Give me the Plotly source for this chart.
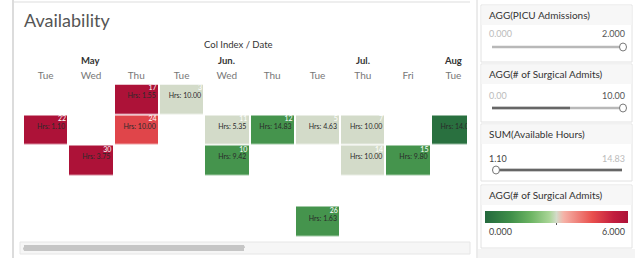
import plotly.graph_objects as go

# ---------------- data ----------------
day_labels = ["Tue", "Wed", "Thu", "Tue", "Wed", "Thu", "Tue", "Thu", "Fri", "Tue"]
month_labels = ["May", "Jun.", "Jul.", "Aug"]
month_centers = [1, 4, 7, 9]          # column index under which month label sits

# cells: (row, col, day number, available hours, surgical admits)
cell_rows = [0, 0, 1, 1, 1, 1, 1, 1, 1, 2, 2, 2, 2, 4]
cell_cols = [2, 3, 0, 2, 4, 5, 6, 7, 9, 1, 4, 7, 8, 6]
cell_days = [17, 3, 22, 24, 11, 12, 5, 7, 2, 30, 10, 14, 15, 26]
cell_hours = [1.55, 10.00, 1.10, 10.00, 5.35, 14.83, 4.63, 10.00, 14.00, 3.75, 9.42, 10.00, 9.80, 1.63]
cell_admits = [6.0, 3.0, 6.0, 4.7, 3.0, 1.2, 3.0, 3.0, 0.2, 6.0, 1.2, 3.0, 1.2, 1.2]

n_rows, n_cols = 5, 10
W, H = 640, 270

def px(x):
    return x / W

def py(y):
    return 1 - y / H

# build heatmap matrix
z = [[None] * n_cols for _ in range(n_rows)]
for r, c, v in zip(cell_rows, cell_cols, cell_admits):
    z[r][c] = v

colorscale = [
    [0.0, "#24693d"],
    [0.18, "#3f8f49"],
    [0.32, "#6cb463"],
    [0.45, "#a9d596"],
    [0.5, "#d3dbc9"],
    [0.55, "#f5b2a7"],
    [0.75, "#e9504d"],
    [0.9, "#c21d3e"],
    [1.0, "#ad1238"],
]

fig = go.Figure()

fig.add_trace(go.Heatmap(
    z=z, x=list(range(n_cols)), y=list(range(n_rows)),
    zmin=0, zmax=6, colorscale=colorscale,
    xgap=2, ygap=1.5, hoverongaps=False,
    colorbar=dict(
        orientation="h", thickness=12, thicknessmode="pixels",
        len=143, lenmode="pixels", xpad=0, ypad=0,
        x=px(485), xanchor="left", y=py(211), yanchor="top",
        outlinewidth=0, showticklabels=False, ticks="",
    ),
))

# day numbers (white, top-right)
fig.add_trace(go.Scatter(
    x=[c + 0.5 - 0.05 for c in cell_cols],
    y=[r - 0.5 + 0.02 for r in cell_rows],
    mode="text", text=[str(d) for d in cell_days],
    textposition="bottom left",
    textfont=dict(size=7, color="white", family="Lato"),
    hoverinfo="skip", showlegend=False,
))
# hours text
fig.add_trace(go.Scatter(
    x=[c + 0.5 - 0.07 for c in cell_cols],
    y=[r - 0.11 for r in cell_rows],
    mode="text", text=["Hrs: %.2f" % h for h in cell_hours],
    textposition="middle left",
    textfont=dict(size=7, color="#2a2a2a", family="Lato"),
    hoverinfo="skip", showlegend=False,
))

fig.update_xaxes(
    domain=[px(23), px(467)], range=[-0.5, 9.3], side="top",
    tickmode="array", tickvals=list(range(n_cols)), ticktext=day_labels,
    tickfont=dict(size=10, color="#777", family="Lato"),
    showgrid=False, zeroline=False, showline=False, ticks="",
    ticklabelstandoff=3,
)
fig.update_yaxes(
    domain=[py(237.5), py(84.5)], range=[4.5, -0.5],
    showticklabels=False, showgrid=False, zeroline=False, showline=False,
)

shapes = []
ann = []

# main panel borders
shapes.append(dict(type="line", xref="paper", yref="paper", x0=px(13), x1=px(13), y0=py(0), y1=py(258),
                   line=dict(color="#d0d0d0", width=1.5)))
shapes.append(dict(type="line", xref="paper", yref="paper", x0=px(13), x1=px(470), y0=py(2), y1=py(2),
                   line=dict(color="#dddddd", width=1)))
shapes.append(dict(type="line", xref="paper", yref="paper", x0=px(477), x1=px(477), y0=py(0), y1=py(258),
                   line=dict(color="#d8d8d8", width=1)))

# scrollbar
shapes.append(dict(type="rect", xref="paper", yref="paper", x0=px(20), x1=px(470), y0=py(254), y1=py(242),
                   fillcolor="#f6f6f6", line=dict(color="#e6e6e6", width=1)))
shapes.append(dict(type="path", xref="paper", yref="paper",
                   path="M %f %f L %f %f Q %f %f %f %f L %f %f Q %f %f %f %f Z" % (
                       px(26), py(245), px(242), py(245), px(245), py(245), px(245), py(248),
                       px(26), py(251), px(23), py(251), px(23), py(248)),
                   fillcolor="#c6c6c6", line=dict(width=0)))
shapes.append(dict(type="rect", xref="paper", yref="paper", x0=px(24), x1=px(244), y0=py(251), y1=py(245),
                   fillcolor="#c6c6c6", line=dict(width=0), layer="above"))

# title and headers
ann.append(dict(x=px(22), y=py(20), xref="paper", yref="paper", text="Availability", showarrow=False,
                xanchor="left", yanchor="middle", font=dict(size=18, color="#555", family="Lato")))
ann.append(dict(x=px(238), y=py(45), xref="paper", yref="paper", text="Col Index / Date", showarrow=False,
                xanchor="center", yanchor="middle", font=dict(size=9.5, color="#333", family="Lato")))
for m, c in zip(month_labels, month_centers):
    ann.append(dict(x=c, y=py(61), xref="x", yref="paper", text="<b>%s</b>" % m, showarrow=False,
                    xanchor="center", yanchor="middle", font=dict(size=9.5, color="#333", family="Lato")))

# right filter cards
def card(y0, y1, title):
    shapes.append(dict(type="rect", xref="paper", yref="paper", x0=px(481), x1=px(632), y0=py(y1), y1=py(y0),
                       fillcolor="white", line=dict(color="#e2e2e2", width=1), layer="below"))
    shapes.append(dict(type="rect", xref="paper", yref="paper", x0=px(481.5), x1=px(631.5), y0=py(y0 + 20), y1=py(y0 + 0.5),
                       fillcolor="#f7f7f7", line=dict(width=0), layer="below"))
    ann.append(dict(x=px(487), y=py(y0 + 10), xref="paper", yref="paper", text=title, showarrow=False,
                    xanchor="left", yanchor="middle", font=dict(size=10, color="#333", family="Lato")))

def values(y, left, right, lcol, rcol):
    ann.append(dict(x=px(487), y=py(y), xref="paper", yref="paper", text=left, showarrow=False,
                    xanchor="left", yanchor="middle", font=dict(size=9, color=lcol, family="Lato")))
    ann.append(dict(x=px(627), y=py(y), xref="paper", yref="paper", text=right, showarrow=False,
                    xanchor="right", yanchor="middle", font=dict(size=9, color=rcol, family="Lato")))

def slider(y, dark_x0, dark_x1, handle_x):
    shapes.append(dict(type="line", xref="paper", yref="paper", x0=px(492), x1=px(622), y0=py(y), y1=py(y),
                       line=dict(color="#b8b8b8", width=2.5)))
    if dark_x1 > dark_x0:
        shapes.append(dict(type="line", xref="paper", yref="paper", x0=px(dark_x0), x1=px(dark_x1), y0=py(y), y1=py(y),
                           line=dict(color="#666", width=2.5)))
    shapes.append(dict(type="circle", xref="paper", yref="paper", x0=px(handle_x - 3.5), x1=px(handle_x + 3.5),
                       y0=py(y + 4), y1=py(y - 4), fillcolor="white", line=dict(color="#777", width=1)))

card(5, 62, "AGG(PICU Admissions)")
values(33, "0.000", "2.000", "#bbb", "#555")
slider(47, 0, 0, 623)

card(64, 122, "AGG(# of Surgical Admits)")
values(95, "0.00", "10.00", "#bbb", "#555")
slider(108, 492, 570, 623)

card(124, 181, "SUM(Available Hours)")
values(158, "1.10", "14.83", "#444", "#bbb")
slider(170, 497, 622, 496)

card(185, 248, "AGG(# of Surgical Admits)")
values(231, "0.000", "6.000", "#444", "#444")
shapes.append(dict(type="rect", xref="paper", yref="paper", x0=px(478), x1=px(635), y0=py(258), y1=py(249),
                   fillcolor="#f4f4f4", line=dict(width=0), layer="below"))
shapes.append(dict(type="line", xref="paper", yref="paper", x0=px(556.5), x1=px(556.5), y0=py(222), y1=py(225),
                   line=dict(color="#555", width=1)))

fig.update_layout(
    width=W, height=H, margin=dict(l=0, r=0, t=0, b=0),
    paper_bgcolor="white", plot_bgcolor="white",
    shapes=shapes, annotations=ann, showlegend=False,
    font=dict(family="Lato"),
)

fig.write_html("out.html", config={"displayModeBar": False},
               post_script="document.body.style.margin='0';document.body.style.overflow='hidden';")
